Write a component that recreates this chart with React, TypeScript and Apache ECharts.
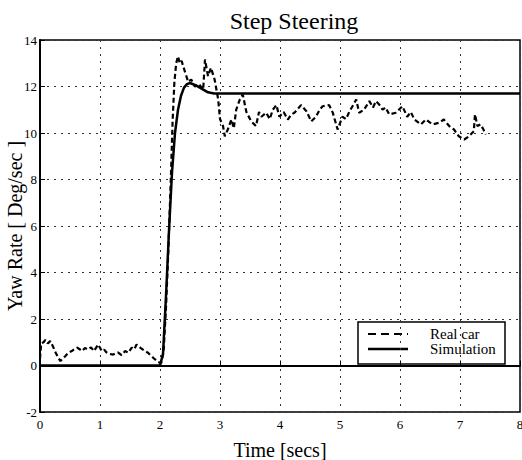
import React, { useEffect, useRef } from "react";
import * as echarts from "echarts";

const titleText = "Step Steering";
const xName = "Time [secs]";
const yName = "Yaw Rate [ Deg/sec ]";
const seriesNames = ["Real car", "Simulation"];

// Real car measurement (time, yaw rate)
const realT = [0, 0.02, 0.06, 0.09, 0.13, 0.17, 0.22, 0.26, 0.3, 0.34, 0.38, 0.42, 0.47, 0.53, 0.57, 0.62, 0.66, 0.7, 0.75, 0.8, 0.85, 0.9, 0.97, 1.03, 1.07, 1.11, 1.16, 1.22, 1.26, 1.3, 1.36, 1.42, 1.47, 1.53, 1.57, 1.61, 1.68, 1.75, 1.8, 1.83, 1.9, 1.97, 2.02, 2.06, 2.1, 2.14, 2.18, 2.21, 2.24, 2.27, 2.3, 2.33, 2.36, 2.42, 2.47, 2.52, 2.58, 2.65, 2.72, 2.75, 2.8, 2.85, 2.91, 2.97, 3.0, 3.05, 3.08, 3.13, 3.19, 3.23, 3.27, 3.33, 3.38, 3.44, 3.52, 3.6, 3.65, 3.69, 3.77, 3.83, 3.88, 3.94, 3.99, 4.06, 4.13, 4.19, 4.24, 4.3, 4.35, 4.44, 4.52, 4.6, 4.66, 4.71, 4.82, 4.88, 4.96, 5.04, 5.1, 5.16, 5.22, 5.27, 5.32, 5.4, 5.49, 5.55, 5.6, 5.66, 5.71, 5.76, 5.82, 5.93, 6.04, 6.12, 6.18, 6.24, 6.35, 6.43, 6.54, 6.65, 6.73, 6.82, 6.9, 6.98, 7.07, 7.15, 7.23, 7.25, 7.29, 7.34, 7.38, 7.43];
const realV = [0.3, 0.95, 1.0, 1.1, 0.95, 1.05, 0.8, 0.56, 0.35, 0.19, 0.3, 0.4, 0.55, 0.62, 0.7, 0.77, 0.7, 0.62, 0.75, 0.69, 0.78, 0.62, 0.9, 0.62, 0.68, 0.56, 0.5, 0.47, 0.52, 0.56, 0.45, 0.62, 0.55, 0.77, 0.7, 0.9, 0.75, 0.62, 0.55, 0.47, 0.3, 0.15, 0.1, 0.6, 2.5, 5.0, 8.0, 10.5, 12.2, 13.0, 13.3, 13.0, 13.1, 12.6, 12.2, 12.3, 12.0, 12.1, 11.87, 13.16, 12.45, 12.8, 12.3, 11.44, 10.6, 10.3, 9.86, 10.15, 10.58, 10.2, 11.0, 11.44, 11.65, 10.9, 10.5, 10.3, 10.9, 10.7, 10.87, 10.6, 11.0, 11.2, 10.7, 10.9, 10.58, 10.8, 10.87, 11.05, 11.2, 10.94, 10.5, 10.7, 11.0, 11.15, 11.2, 10.87, 10.15, 10.7, 10.6, 10.94, 11.2, 11.44, 10.87, 11.0, 11.37, 11.1, 11.37, 11.2, 11.0, 11.1, 10.8, 10.87, 11.15, 10.7, 10.9, 10.58, 10.37, 10.58, 10.37, 10.44, 10.58, 10.3, 10.15, 9.86, 9.72, 9.86, 10.08, 10.8, 10.3, 10.37, 10.2, 9.94];

// Simulation (time, yaw rate)
const simT = [0, 2.0, 2.05, 2.1, 2.15, 2.2, 2.25, 2.3, 2.35, 2.4, 2.45, 2.5, 2.6, 2.7, 2.8, 2.9, 3.0, 8.0];
const simV = [0, 0, 0.5, 3.0, 5.8, 8.3, 10.0, 11.0, 11.6, 11.95, 12.1, 12.15, 12.05, 11.9, 11.75, 11.7, 11.7, 11.7];

const xTicks = [0, 1, 2, 3, 4, 5, 6, 7, 8];
const yTicks = [-2, 0, 2, 4, 6, 8, 10, 12, 14];

const serif = "'Liberation Serif', 'Times New Roman', serif";

export default function App() {
  const ref = useRef<HTMLDivElement>(null);
  useEffect(() => {
    if (!ref.current) return;
    const chart = echarts.init(ref.current, null, { renderer: "svg" });
    const realData = realT.map((t, i) => [t, realV[i]]);
    const simData = simT.map((t, i) => [t, simV[i]]);
    const gridLine = {
      show: true,
      lineStyle: { color: "#333", width: 1, type: [2, 5] as any },
    };
    const lx = 358;
    const ly = 322;
    chart.setOption({
      animation: false,
      backgroundColor: "#fff",
      title: {
        text: titleText,
        left: 289,
        textAlign: "center",
        top: 4,
        textStyle: { fontFamily: serif, fontSize: 24, fontWeight: "normal", color: "#000" },
      },
      grid: {
        left: 40,
        right: 2,
        top: 40,
        bottom: 48,
        outerBoundsMode: "none",
        containLabel: false,
        show: true,
        borderColor: "#000",
        borderWidth: 1.5,
        backgroundColor: "transparent",
      },
      graphic: [
        {
          type: "group",
          z: 100,
          children: [
            {
              type: "rect",
              shape: { x: lx, y: ly, width: 147, height: 42 },
              style: { fill: "#fff", stroke: "#000", lineWidth: 1.5 },
            },
            {
              type: "line",
              shape: { x1: lx + 10, y1: ly + 12, x2: lx + 50, y2: ly + 12 },
              style: { stroke: "#000", lineWidth: 2.2, lineDash: [8, 5] },
            },
            {
              type: "line",
              shape: { x1: lx + 10, y1: ly + 27, x2: lx + 50, y2: ly + 27 },
              style: { stroke: "#000", lineWidth: 2.5 },
            },
            {
              type: "text",
              x: lx + 72,
              y: ly + 12,
              style: { text: seriesNames[0], font: "15px 'Liberation Serif', serif", fill: "#000", verticalAlign: "middle" },
            },
            {
              type: "text",
              x: lx + 72,
              y: ly + 27,
              style: { text: seriesNames[1], font: "15px 'Liberation Serif', serif", fill: "#000", verticalAlign: "middle" },
            },
          ],
        },
      ],
      xAxis: {
        type: "value",
        min: xTicks[0],
        max: xTicks[xTicks.length - 1],
        interval: 1,
        name: xName,
        nameLocation: "middle",
        nameGap: 28,
        nameMoveOverlap: false,
        nameTextStyle: { fontFamily: serif, fontSize: 20, color: "#000" },
        axisLine: { show: true, lineStyle: { color: "#000", width: 2 } },
        axisTick: { show: true, inside: true, length: 5, lineStyle: { color: "#000" } },
        axisLabel: { fontFamily: serif, fontSize: 13, color: "#000", margin: 6 },
        splitLine: gridLine,
      },
      yAxis: {
        type: "value",
        min: yTicks[0],
        max: yTicks[yTicks.length - 1],
        interval: 2,
        name: yName,
        nameLocation: "middle",
        nameGap: 15,
        nameMoveOverlap: false,
        nameTextStyle: { fontFamily: serif, fontSize: 20, color: "#000" },
        axisLine: { show: true, lineStyle: { color: "#000", width: 2 } },
        axisTick: { show: true, inside: true, length: 5, lineStyle: { color: "#000" } },
        axisLabel: { fontFamily: serif, fontSize: 13, color: "#000", margin: 3 },
        splitLine: gridLine,
      },
      series: [
        {
          name: seriesNames[0],
          type: "line",
          data: realData,
          symbol: "none",
          lineStyle: { color: "#000", width: 2.2, type: [5, 3] as any },
          itemStyle: { color: "#000" },
          z: 3,
        },
        {
          name: seriesNames[1],
          type: "line",
          data: simData,
          symbol: "none",
          lineStyle: { color: "#000", width: 2.5, type: "solid" },
          itemStyle: { color: "#000" },
          z: 4,
        },
      ],
    });
    return () => chart.dispose();
  }, []);
  return (
    <div
      ref={ref}
      style={{ position: "fixed", left: 0, top: 0, width: 522, height: 460, background: "#fff" }}
    />
  );
}
